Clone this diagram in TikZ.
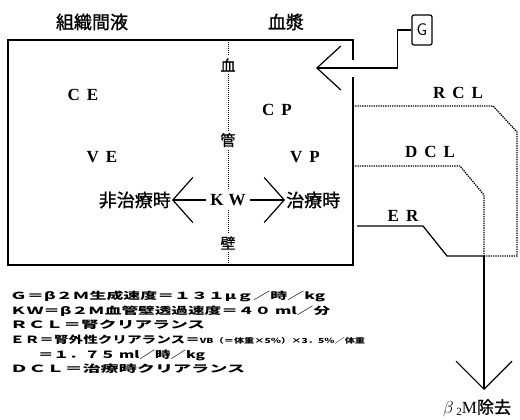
\documentclass[tikz,border=0pt]{standalone}
\usepackage{fontspec}
\setmainfont{Liberation Serif}
\newfontfamily\jp{Noto Sans CJK JP}[FakeBold=1.2]
\newfontfamily\lgd{Noto Sans CJK JP}
\usetikzlibrary{positioning, arrows.meta, calc}
\newcommand\lsp{\hspace{7pt}}
\newcommand\lgdline[2]{\resizebox{#1}{8.5pt}{\lgd\bfseries #2}}

\begin{document}
\begin{tikzpicture}[x=1pt, y=-1pt,
  lbl/.style={font=\fontsize{17}{17}\selectfont\bfseries, inner sep=1pt},
  jplbl/.style={font=\fontsize{18}{18}\selectfont\jp, inner sep=1pt},
  wall/.style={font=\fontsize{15}{15}\selectfont\jp, fill=white, inner sep=2pt},
  bigopen/.style={-{Straight Barb[length=20pt, width=45pt]}},
  flow/.style={line width=1.2pt},
  clear/.style={line width=1.3pt, densely dotted},
  legend/.style={anchor=base west, inner sep=0pt}]
\useasboundingbox (0,0) rectangle (520,420);

% compartments and vessel wall
\draw[line width=1.8pt] (353,60) -- (353,40) -- (8,40) -- (8,265) -- (353,265) -- (353,77);
\draw[line width=1pt, densely dotted] (228,40) -- (228,265);
\node[wall] (w1) at (228,65) {血};
\node[wall] (w2) at (228,140) {管};
\node[wall] (w3) at (228,243) {壁};

\node[jplbl] (isf) at (92,22) {組織間液};
\node[jplbl] (plasma) at (286,22) {血漿};
\node[lbl] (ce) at (83,95) {C\lsp E};
\node[lbl] (cp) at (277,110) {C\lsp P};
\node[lbl] (ve) at (102,157) {V\lsp E};
\node[lbl] (vp) at (305,157) {V\lsp P};

% transfer across the wall
\node[lbl, fill=white, inner sep=4pt] (kw) at (228,200) {K\hspace{5pt}W};
\node[jplbl, anchor=east] (offtx) at (172,200) {非治療時};
\node[jplbl, anchor=west] (ontx) at (285,200) {治療時};
\draw[flow, bigopen] (kw) -- (offtx);
\draw[flow, bigopen] (kw) -- (ontx);

% generation
\node[draw, rounded corners=2pt, line width=1.2pt, minimum width=20pt, minimum height=30pt,
  inner sep=0pt, font=\fontsize{17}{17}\selectfont\sffamily] (g) at (422,30) {G};
\coordinate (gtip) at (316,68);
\draw[flow, -{Straight Barb[length=24pt, width=44pt]}] (g.west) -- ++(-14,0) |- (gtip);

% clearances
\coordinate (jn) at (484,256);
\coordinate (out) at (484,390);
\draw[clear] (353,106) -- (493,106) -- (517,132) |- (jn);
\draw[clear] (353,166) -- (460,166) -- (484,195) -- (jn);
\draw[flow] (357,226) -- (423,226) -- (447,256) -- (jn);
\draw[flow, -{Straight Barb[length=28pt, width=56pt]}] (jn) -- (out);
\node[lbl] (rcl) at (458,93) {R\lsp C\lsp L};
\node[lbl] (dcl) at (430,152) {D\lsp C\lsp L};
\node[lbl] (er) at (403,216) {E\lsp R};
\node[font=\fontsize{17}{17}\selectfont, inner sep=1pt] (removal) at (477,408)
  {$\beta$\,{\fontsize{11}{11}\selectfont\raisebox{-2pt}{2}}M{\jp 除去}};

% legend
\node[legend] (lg1) at (10,299) {\lgdline{315pt}{Ｇ＝β２Ｍ生成速度＝１３１μｇ／時／kg}};
\node[legend] (lg2) at (10,314) {\lgdline{320pt}{ＫＷ＝β２Ｍ血管壁透過速度＝４０ ml／分}};
\node[legend] (lg3) at (10,328.5) {\lgdline{195pt}{ＲＣＬ＝腎クリアランス}};
\node[legend] (lg4) at (10,343) {\lgdline{355pt}{ＥＲ＝腎外性クリアランス＝{\fontsize{7}{7}\selectfont VB（＝体重×5％）×3．5％／体重}}};
\node[legend] (lg5) at (38,358) {\lgdline{167pt}{＝１．７５ ml／時／kg}};
\node[legend] (lg6) at (10,372) {\lgdline{235pt}{ＤＣＬ＝治療時クリアランス}};
\end{tikzpicture}
\end{document}
